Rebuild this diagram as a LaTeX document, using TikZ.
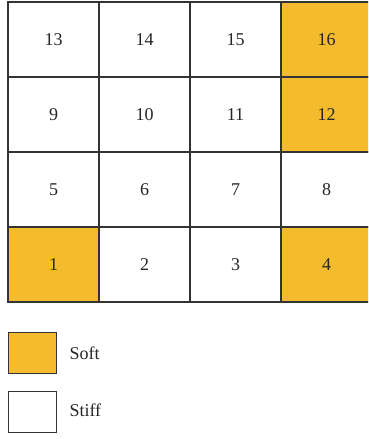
\documentclass[tikz,border=0pt]{standalone}
\usepackage{fontspec}
\setmainfont{Liberation Serif}
\definecolor{soft}{HTML}{F4BC2C}
\definecolor{edge}{HTML}{333333}
\begin{document}
\begin{tikzpicture}[x=1pt,y=-1pt,
  cell/.style={draw=edge,line width=1.4pt,minimum width=91pt,minimum height=75pt,inner sep=0pt,outer sep=0pt,anchor=north west,font=\fontsize{18}{20}\selectfont,text=black!85},
  softcell/.style={cell,fill=soft},
  stiffcell/.style={cell,fill=white},
  legbox/.style={draw=edge,line width=1.2pt,minimum width=48pt,minimum height=41pt,inner sep=0pt,anchor=north west},
  legtext/.style={anchor=west,font=\fontsize{18}{20}\selectfont,text=black!85}]
\useasboundingbox (0,0) rectangle (368,439);
\clip (0,0) rectangle (368,439);
\foreach \r/\a/\b/\c/\d/\sa/\sb/\sc/\sd in {0/13/14/15/16/stiffcell/stiffcell/stiffcell/softcell,
  1/9/10/11/12/stiffcell/stiffcell/stiffcell/softcell,
  2/5/6/7/8/stiffcell/stiffcell/stiffcell/stiffcell,
  3/1/2/3/4/softcell/stiffcell/stiffcell/softcell}{
  \node[\sa] (c\a) at (8,2+75*\r) {\a};
  \node[\sb] (c\b) at (99,2+75*\r) {\b};
  \node[\sc] (c\c) at (190,2+75*\r) {\c};
  \node[\sd] (c\d) at (281,2+75*\r) {\d};
}
\node[legbox,fill=soft] (lsoft) at (8,332) {};
\node[legtext] (tsoft) at (66,353) {Soft};
\node[legbox,fill=white] (lstiff) at (8,391) {};
\node[legtext] (tstiff) at (66,410) {Stiff};
\end{tikzpicture}
\end{document}
